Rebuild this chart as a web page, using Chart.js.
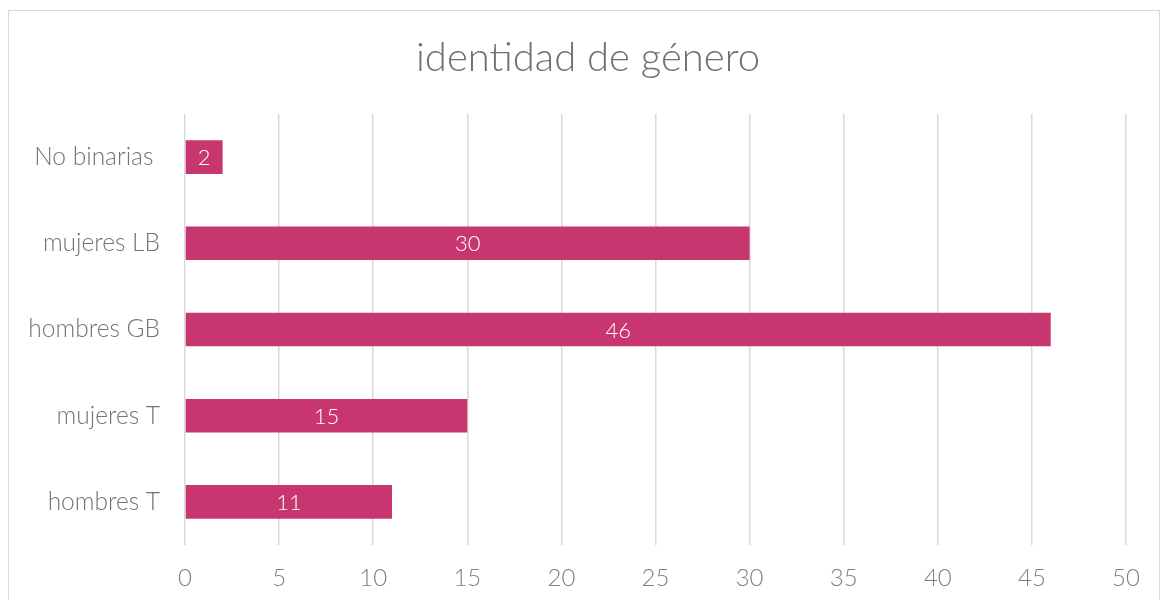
<!DOCTYPE html>
<html>
<head>
<meta charset="utf-8">
<script src="https://cdn.jsdelivr.net/npm/chart.js@4/dist/chart.umd.min.js"></script>
<style>
  html, body { margin: 0; padding: 0; background: #ffffff; }
  body { width: 1163px; height: 600px; position: relative; overflow: hidden; }
  #frame { position: absolute; left: 8px; top: 10px; width: 1152px; height: 620px; border: 1.5px solid #d9d9d9; box-sizing: border-box; }
  #wrap { position: absolute; left: 0; top: 0; width: 1163px; height: 600px; }
</style>
</head>
<body>
<div id="frame"></div>
<div id="wrap"><canvas id="c" width="1163" height="600"></canvas></div>
<script>
const categories = ["No binarias ", "mujeres LB", "hombres GB", "mujeres T", "hombres T"];
const values = [2, 30, 46, 15, 11];
const xTicks = [0, 5, 10, 15, 20, 25, 30, 35, 40, 45, 50];
const chartTitle = "identidad de género";

const FONT = "Lato, 'Open Sans', sans-serif";

const barLabels = {
  id: 'barLabels',
  afterLayout(chart) {
    if (chart.titleBlock) { chart.titleBlock.left = 50; }
  },
  afterDatasetsDraw(chart) {
    const ctx = chart.ctx;
    const meta = chart.getDatasetMeta(0);
    ctx.save();
    ctx.fillStyle = '#ffffff';
    ctx.font = '300 22px ' + FONT;
    ctx.textAlign = 'center';
    ctx.textBaseline = 'middle';
    meta.data.forEach((bar, i) => {
      const p = bar.getProps(['x', 'y', 'base'], true);
      ctx.fillText(String(values[i]), (p.x + p.base) / 2, p.y + 1);
    });
    ctx.restore();
  }
};

new Chart(document.getElementById('c'), {
  type: 'bar',
  data: {
    labels: categories,
    datasets: [{
      data: values,
      backgroundColor: '#c8366f',
      borderWidth: 0,
      categoryPercentage: 1,
      barPercentage: 0.39
    }]
  },
  plugins: [barLabels],
  options: {
    indexAxis: 'y',
    responsive: false,
    animation: false,
    layout: { padding: { left: 0, right: 37, top: 0, bottom: 0 } },
    plugins: {
      legend: { display: false },
      tooltip: { enabled: false },
      title: {
        display: true,
        text: chartTitle,
        color: '#707070',
        font: { family: FONT, size: 40, weight: '300', lineHeight: 1.2 },
        padding: { top: 34, bottom: 32 }
      }
    },
    scales: {
      x: {
        min: 0,
        max: 50,
        afterBuildTicks(scale) { scale.ticks = xTicks.map(v => ({ value: v })); },
        afterFit(scale) { scale.height = 55; },
        grid: { color: '#d9d9d9', lineWidth: 1.5, drawTicks: false },
        border: { display: false },
        ticks: {
          color: '#7f7f7f',
          font: { family: FONT, size: 24, weight: '300' },
          padding: 19,
          maxRotation: 0
        }
      },
      y: {
        afterFit(scale) { scale.width = 185; },
        grid: { display: false, drawTicks: false },
        border: { display: false },
        ticks: {
          color: '#737373',
          font: { family: FONT, size: 24.5, weight: '300' },
          padding: 25
        }
      }
    }
  }
});
</script>
</body>
</html>
